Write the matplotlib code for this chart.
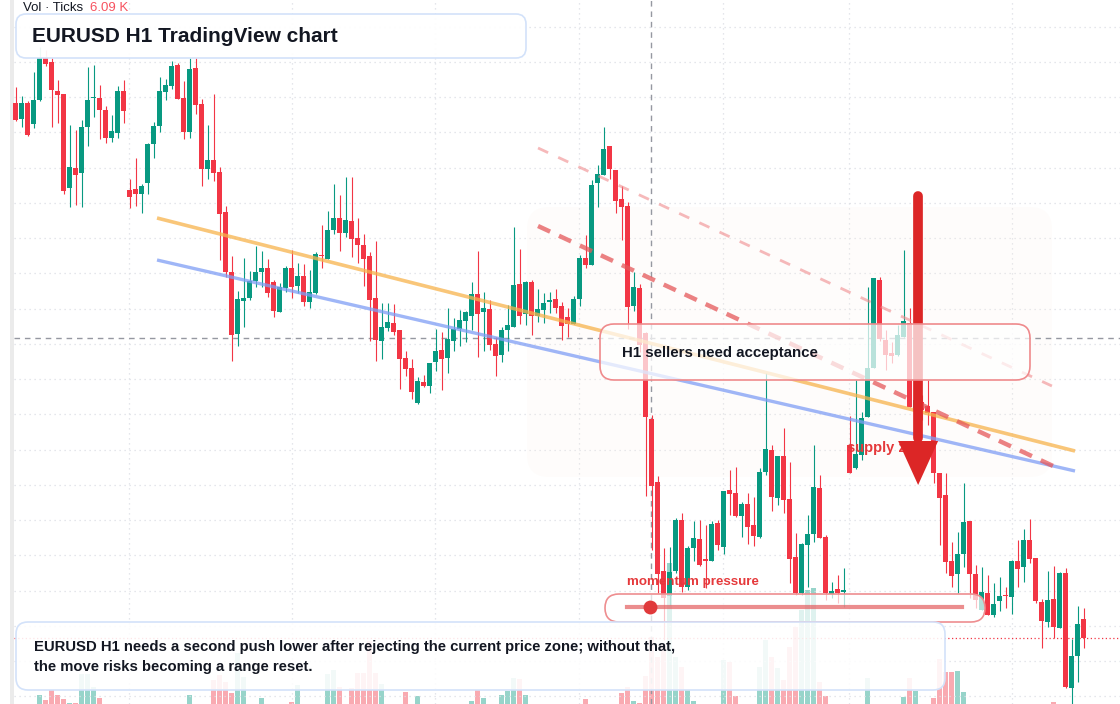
import numpy as np
import matplotlib.pyplot as plt
from matplotlib.patches import FancyBboxPatch, Rectangle
from matplotlib.colors import to_rgba

plt.rcParams['font.family'] = ['Liberation Sans', 'DejaVu Sans']

# EURUSD H1 candles, prices in 1e-5 units (points)
opens = [
    109691, 109643, 109691, 109628, 109700, 109826, 109814, 109727, 109718, 109436,
    109496, 109481, 109619, 109706, 109706, 109670, 109586, 109601, 109727, 109430,
    109433, 109418, 109451, 109568, 109622, 109724, 109742, 109805, 109706, 109604,
    109796, 109688, 109493, 109520, 109484, 109364, 109184, 108998, 109097, 109106,
    109157, 109184, 109196, 109154, 109064, 109136, 109196, 109142, 109172, 109094,
    109121, 109235, 109223, 109310, 109346, 109301, 109337, 109286, 109265, 109232,
    109106, 108977, 109016, 109031, 109010, 108926, 108896, 108791, 108854, 108842,
    108914, 108950, 108926, 108977, 109013, 109037, 109052, 109118, 109064, 109073,
    108968, 108935, 109010, 109019, 109148, 109058, 109154, 109052, 109070, 109094,
    109103, 109082, 109049, 109028, 109103, 109226, 109205, 109451, 109475, 109562,
    109490, 109403, 109382, 109082, 109136, 109001, 108743, 108554, 108287, 108212,
    108287, 108440, 108239, 108356, 108383, 108323, 108317, 108431, 108359, 108530,
    108521, 108452, 108488, 108425, 108389, 108584, 108650, 108506, 108632, 108503,
    108329, 108221, 108365, 108398, 108536, 108389, 108218, 108233, 108224, 108665,
    108596, 108635, 108749, 108896, 109160, 108980, 108941, 108935, 108989, 109031,
    108770, 108794, 108782, 108764, 108581, 108515, 108317, 108278, 108338, 108437,
    108278, 108170, 108221, 108155, 108197, 108215, 108209, 108317, 108299, 108380,
    108326, 108194, 108134, 108203, 108116, 108281, 107936, 108032, 108143]
highs = [
    109739, 109712, 109697, 109784, 109859, 109850, 109826, 109760, 109718, 109625,
    109610, 109640, 109799, 109805, 109745, 109682, 109655, 109742, 109760, 109463,
    109526, 109448, 109571, 109634, 109769, 109763, 109817, 109811, 109757, 109826,
    109826, 109703, 109625, 109718, 109499, 109382, 109232, 109127, 109226, 109187,
    109262, 109247, 109223, 109160, 109151, 109202, 109250, 109211, 109208, 109190,
    109244, 109325, 109367, 109448, 109415, 109469, 109469, 109346, 109298, 109244,
    109277, 109091, 109091, 109088, 109010, 108947, 108923, 108869, 108875, 108911,
    109013, 109004, 109076, 109046, 109070, 109067, 109154, 109247, 109124, 109100,
    108989, 109019, 109085, 109319, 109253, 109157, 109160, 109133, 109121, 109124,
    109133, 109094, 109076, 109112, 109235, 109295, 109460, 109505, 109619, 109562,
    109490, 109442, 109394, 109184, 109148, 109004, 108755, 108572, 108356, 108359,
    108446, 108461, 108362, 108437, 108440, 108425, 108437, 108440, 108527, 108590,
    108599, 108494, 108521, 108509, 108596, 108881, 108665, 108632, 108716, 108614,
    108401, 108371, 108455, 108665, 108575, 108395, 108254, 108275, 108296, 108752,
    108860, 108764, 109139, 109166, 109169, 109010, 108974, 109025, 109250, 109076,
    108845, 108815, 108860, 108764, 108581, 108581, 108374, 108404, 108551, 108437,
    108305, 108299, 108275, 108251, 108269, 108239, 108320, 108380, 108413, 108443,
    108326, 108203, 108287, 108302, 108284, 108296, 108083, 108182, 108176]
lows = [
    109637, 109619, 109592, 109616, 109697, 109802, 109619, 109631, 109418, 109379,
    109385, 109379, 109562, 109649, 109583, 109571, 109574, 109586, 109631, 109376,
    109382, 109361, 109418, 109526, 109604, 109700, 109733, 109703, 109583, 109586,
    109658, 109442, 109463, 109457, 109220, 109169, 108917, 108962, 109019, 109100,
    109139, 109139, 109109, 109049, 109064, 109124, 109106, 109121, 109082, 109076,
    109118, 109196, 109223, 109298, 109247, 109289, 109229, 109211, 109142, 108977,
    108917, 108923, 109007, 108995, 108833, 108872, 108803, 108788, 108839, 108821,
    108887, 108830, 108881, 108947, 108962, 108974, 109010, 108929, 108947, 108950,
    108872, 108914, 108947, 109019, 109028, 109025, 108995, 109034, 109031, 109061,
    109061, 108980, 108989, 109028, 109082, 109196, 109205, 109379, 109475, 109463,
    109361, 109280, 109013, 109067, 108944, 108512, 108350, 108221, 108080, 108185,
    108281, 108224, 108230, 108317, 108302, 108236, 108317, 108350, 108338, 108455,
    108449, 108389, 108368, 108362, 108386, 108575, 108467, 108485, 108461, 108251,
    108215, 108215, 108239, 108374, 108386, 108200, 108206, 108191, 108179, 108581,
    108593, 108620, 108749, 108896, 108977, 108890, 108911, 108932, 108989, 108779,
    108746, 108740, 108725, 108551, 108365, 108281, 108239, 108221, 108299, 108206,
    108176, 108170, 108155, 108149, 108167, 108176, 108158, 108239, 108254, 108311,
    108191, 108056, 108119, 108086, 108116, 107936, 107888, 107954, 108056]
closes = [
    109640, 109691, 109595, 109700, 109826, 109808, 109730, 109715, 109427, 109499,
    109475, 109619, 109700, 109709, 109670, 109586, 109607, 109727, 109667, 109409,
    109418, 109442, 109568, 109622, 109727, 109745, 109802, 109703, 109604, 109793,
    109685, 109493, 109520, 109481, 109358, 109184, 108995, 109103, 109106, 109157,
    109184, 109196, 109121, 109067, 109139, 109196, 109139, 109172, 109094, 109124,
    109238, 109232, 109310, 109346, 109301, 109340, 109283, 109265, 109223, 109100,
    108980, 109019, 109034, 109004, 108923, 108893, 108824, 108857, 108842, 108911,
    108947, 108923, 108983, 109013, 109040, 109064, 109118, 109058, 109076, 108965,
    108932, 109010, 109025, 109145, 109052, 109154, 109052, 109073, 109091, 109100,
    109076, 109022, 109028, 109103, 109226, 109205, 109445, 109478, 109553, 109493,
    109397, 109379, 109079, 109139, 108965, 108749, 108542, 108278, 108206, 108284,
    108440, 108239, 108356, 108386, 108305, 108317, 108428, 108365, 108527, 108518,
    108452, 108488, 108419, 108392, 108584, 108653, 108509, 108632, 108500, 108323,
    108221, 108368, 108398, 108539, 108386, 108221, 108227, 108221, 108230, 108581,
    108638, 108746, 108896, 109166, 108983, 108935, 108932, 108995, 109037, 108779,
    108800, 108770, 108761, 108581, 108506, 108314, 108272, 108338, 108434, 108278,
    108200, 108224, 108155, 108188, 108212, 108212, 108317, 108293, 108380, 108323,
    108197, 108137, 108200, 108119, 108281, 107939, 108032, 108128, 108086]

# tick volume, thousands
volume_k = [
    0.05, 0.05, 0.05, 0.05, 0.9, 0.4, 1.4, 0.9, 0.5, 0.1,
    0.13, 3.0, 3.0, 1.7, 0.6, 0.05, 0.05, 0.05, 0.05, 0.05,
    0.05, 0.05, 0.05, 0.05, 0.05, 0.05, 0.05, 0.05, 0.05, 0.9,
    0.05, 0.05, 0.05, 2.4, 2.9, 2.2, 1.1, 5.1, 2.7, 0.05,
    0.05, 0.6, 0.05, 0.05, 0.05, 0.05, 0.2, 1.9, 0.05, 0.05,
    0.05, 0.05, 3.0, 3.4, 1.7, 0.05, 1.6, 3.1, 3.1, 6.3,
    3.1, 2.0, 0.05, 0.05, 0.05, 1.2, 0.05, 0.8, 0.05, 0.05,
    0.05, 0.05, 0.05, 0.05, 0.05, 0.05, 0.3, 1.4, 0.6, 0.05,
    0.05, 0.9, 1.3, 2.6, 2.5, 0.9, 0.05, 0.05, 0.05, 0.05,
    0.05, 0.05, 0.05, 0.05, 0.05, 0.5, 0.05, 0.05, 0.05, 0.05,
    0.05, 1.1, 1.7, 0.3, 0.15, 2.8, 6.7, 4.7, 6.0, 14.1,
    4.7, 3.7, 1.4, 0.3, 0.05, 0.05, 0.05, 0.05, 4.4, 4.2,
    0.8, 0.05, 0.05, 0.05, 3.7, 6.4, 4.7, 3.6, 2.4, 5.7,
    7.7, 9.4, 11.4, 11.6, 2.2, 0.8, 0.05, 0.05, 0.05, 0.05,
    0.05, 0.05, 2.6, 0.05, 0.05, 0.05, 0.05, 0.05, 0.7, 2.6,
    1.3, 0.05, 0.05, 0.6, 4.5, 3.2, 3.2, 3.3, 1.2, 0.05,
    0.05, 0.05, 0.05, 0.05, 0.05, 0.05, 0.05, 0.05, 0.05, 0.05,
    0.05, 0.05, 0.05, 0.2, 0.05, 0.05, 0.05, 0.05, 0.05]

# drawings (bar index, price points)
orange_line = ([23.55, 176.55], [109346, 108647])
blue_line = ([23.55, 176.55], [109220, 108587])
red_dash_line = ([87.05, 172.9], [109322, 108602])
pink_dash_line = ([87.05, 172.7], [109556, 108842])
day_breaks = [18.9, 46.05, 69.9, 93.9, 117.9, 138.9, 166.05]
cross_bar = 105.9
cross_price = 108986
arrow_bar = 150.4
arrow_top, arrow_base, arrow_tip = 109412, 108677, 108545

GREEN = '#089981'
RED = '#f23645'
INK = '#131722'

o = np.array(opens) / 1e5
h = np.array(highs) / 1e5
l = np.array(lows) / 1e5
c = np.array(closes) / 1e5
x = np.arange(len(o))
up = c >= o
cols = np.where(up, GREEN, RED)

W, H = 1120, 704
fig = plt.figure(figsize=(W / 100, H / 100), dpi=100)
vax = fig.add_axes([0, 0, 1, 1])
ax = fig.add_axes([0, 0, 1, 1])
xlim = (-2.62, -2.62 + W / 6.0)
for a in (vax, ax):
    a.set_xlim(*xlim)
    a.axis('off')
ax.set_ylim(1.07888, 1.10000)
vax.set_ylim(0, 70.4)

# grid
for lv in np.arange(1.09920, 1.0788, -0.0010572):
    ax.axhline(lv, xmin=14 / W, color='#dcdfe5', lw=0.9, ls=(0, (1, 3)), zorder=0)
for d in day_breaks:
    ax.axvline(d, color='#dcdfe5', lw=0.9, ls=(0, (1, 3)), zorder=0)

# left strip
ax.add_patch(Rectangle((0.10, 0), 0.04, H / 100, transform=fig.dpi_scale_trans,
                       fc='#ebebeb', ec='none', zorder=2, clip_on=False))


def rbox(x0, y0, x1, y1, r, fc, ec, lw=1.2, z=10):
    p = FancyBboxPatch((x0 / 100, (H - y1) / 100), (x1 - x0) / 100, (y1 - y0) / 100,
                       boxstyle='round,pad=0,rounding_size=%f' % (r / 100),
                       transform=fig.dpi_scale_trans, fc=fc, ec=ec, lw=lw,
                       zorder=z, clip_on=False)
    ax.add_patch(p)


def ftext(px, py, s, **kw):
    return ax.text(px / W, 1 - py / H, s, transform=fig.transFigure, **kw)


# zone shade (very faint)
rbox(527, 207, 1052, 477, 22, to_rgba('#fcefe4', 0.14), 'none', lw=0, z=1)

# volume
vcols = [to_rgba(GREEN if u else RED, 0.42) for u in up]
vax.bar(x, volume_k, width=0.82, color=vcols, linewidth=0, zorder=1)

# crosshair and last price
ax.axvline(cross_bar, color='#9598a1', lw=1, ls=(0, (4, 3.5)), zorder=2)
ax.axhline(cross_price / 1e5, xmin=14 / W, color='#9598a1', lw=1, ls=(0, (4, 3.5)), zorder=2)
ax.axhline(c[-1], xmin=14 / W, color=RED, lw=0.9, ls=(0, (1, 2)), zorder=2)

# candles
ax.vlines(x, l, h, colors=cols, linewidth=0.8, zorder=3)
body = np.maximum(np.abs(c - o), 0.00004)
ax.bar(x, body, bottom=np.minimum(o, c), width=0.78, color=cols, linewidth=0, zorder=4)

# trend lines
ax.plot(orange_line[0], np.array(orange_line[1]) / 1e5, color='#f7b34c', lw=2.6,
        alpha=0.75, solid_capstyle='butt', zorder=5)
ax.plot(blue_line[0], np.array(blue_line[1]) / 1e5, color='#7f9ef5', lw=2.4,
        alpha=0.75, solid_capstyle='butt', zorder=5)
ax.plot(red_dash_line[0], np.array(red_dash_line[1]) / 1e5, color='#e5585a', lw=3.2,
        alpha=0.75, ls=(0, (3, 2.2)), zorder=5)
ax.plot(pink_dash_line[0], np.array(pink_dash_line[1]) / 1e5, color='#f08b8d', lw=2.0,
        alpha=0.6, ls=(0, (4, 4)), zorder=5)

# supply arrow
ax.plot([arrow_bar, arrow_bar], [arrow_top / 1e5, arrow_base / 1e5 + 0.0001],
        color='#dc2626', lw=7, solid_capstyle='round', zorder=7)
hw = 3.33
ax.fill([arrow_bar - hw, arrow_bar + hw, arrow_bar],
        [arrow_base / 1e5, arrow_base / 1e5, arrow_tip / 1e5],
        color='#dc2626', lw=0, zorder=9)
ftext(847, 448, 'supply zone', fontsize=10.5, fontweight='bold', color='#e5393b',
      va='center', zorder=8)

# boxes
rbox(16, 14, 526, 58, 10, to_rgba('white', 0.93), '#d3e2fa', z=12)
ftext(32, 36, 'EURUSD H1 TradingView chart', fontsize=15, fontweight='bold', color=INK,
      va='center', zorder=13)
ftext(23, 8, 'Vol · Ticks', fontsize=9.5, color=INK, va='center', zorder=13)
ftext(90, 8, '6.09 K', fontsize=9.5, color='#f7525f', va='center', zorder=13)

rbox(600, 324, 1030, 380, 14, to_rgba('white', 0.72), '#ef8a8c', z=12)
ftext(622, 353, 'H1 sellers need acceptance', fontsize=10.8, fontweight='bold', color=INK,
      va='center', zorder=13)

ftext(627, 582, 'momentum pressure', fontsize=9.6, fontweight='bold', color='#e5393b',
      va='center', zorder=13)
rbox(605, 594, 985, 622, 14, to_rgba('white', 0.7), '#ee8e90', z=12)
ax.plot([6.27, 9.62], [(H - 607) / 100] * 2, transform=fig.dpi_scale_trans,
        color='#e35d5f', lw=3, alpha=0.7, zorder=13, clip_on=False)
ax.plot([6.50], [(H - 607) / 100], 'o', transform=fig.dpi_scale_trans, ms=10,
        color='#e0393b', mew=0, zorder=14, clip_on=False)

rbox(16, 622, 945, 690, 12, to_rgba('white', 0.88), '#d3e2fa', z=12)
ftext(34, 647, 'EURUSD H1 needs a second push lower after rejecting the current price zone; without that,',
      fontsize=10.75, fontweight='bold', color=INK, va='center', zorder=13)
ftext(34, 667, 'the move risks becoming a range reset.', fontsize=10.75, fontweight='bold',
      color=INK, va='center', zorder=13)

fig.savefig('out.png', dpi=100)
